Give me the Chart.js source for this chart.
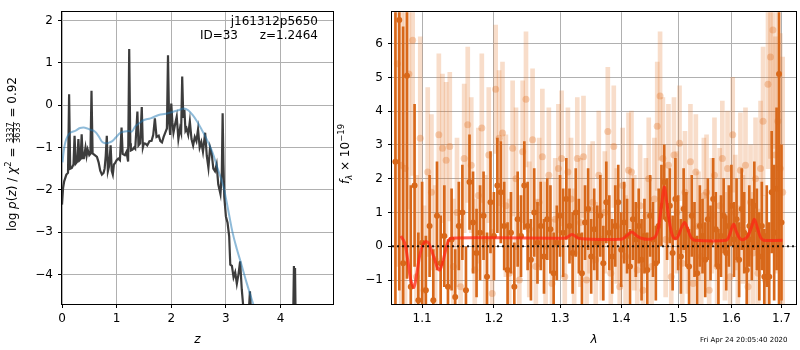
<!DOCTYPE html>
<html>
<head>
<meta charset="utf-8">
<script src="https://cdn.jsdelivr.net/npm/chart.js@4.4.0/dist/chart.umd.min.js"></script>
<style>
html, body { margin: 0; padding: 0; background: #fff; width: 800px; height: 350px; overflow: hidden; }
canvas { position: absolute; top: 0; }
#pz { left: 0; }
#spec { left: 336px; }
</style>
</head>
<body>
<canvas id="pz" width="338" height="350" style="width:338px;height:350px"></canvas>
<canvas id="spec" width="464" height="350" style="width:464px;height:350px"></canvas>
<script>
// p(z) panel
const zTicks = [0, 1, 2, 3, 4];
const logpTicks = [-4, -3, -2, -1, 0, 1, 2];

const zBlack = [
  0.00, 0.02, 0.04, 0.08, 0.11, 0.13, 0.15, 0.18, 0.21, 0.23,
  0.25, 0.28, 0.30, 0.32, 0.34, 0.36, 0.38, 0.40, 0.43, 0.45,
  0.47, 0.50, 0.52, 0.54, 0.56, 0.60, 0.64, 0.67, 0.70, 0.73,
  0.76, 0.78, 0.80, 0.82, 0.84, 0.86, 0.89, 0.91, 0.93, 0.95,
  0.97, 1.00, 1.03, 1.06, 1.09, 1.11, 1.15, 1.18, 1.21, 1.23,
  1.25, 1.26, 1.29, 1.32, 1.34, 1.36, 1.38, 1.40, 1.43, 1.46,
  1.48, 1.50, 1.53, 1.56, 1.60, 1.64, 1.67, 1.70, 1.73, 1.77,
  1.80, 1.83, 1.86, 1.89, 1.92, 1.94, 1.96, 1.98, 2.00, 2.02,
  2.04, 2.07, 2.10, 2.13, 2.16, 2.18, 2.20, 2.22, 2.24, 2.26,
  2.28, 2.31, 2.34, 2.37, 2.40, 2.43, 2.46, 2.49, 2.52, 2.55,
  2.58, 2.62, 2.65, 2.68, 2.71, 2.74, 2.77, 2.80, 2.83, 2.86,
  2.90, 2.925, 2.94, 2.955, 2.97, 3.00, 3.03, 3.06, 3.08, 3.11,
  3.14, 3.17, 3.20, 3.23, 3.26, 3.29, 3.32, 3.35, 3.39, 3.42,
  3.44, 3.46, 3.50, 4.22, 4.245, 4.255, 4.265, 4.285, 4.96
];
const logpBlack = [
  -2.35, -1.95, -1.80, -1.64, -1.60, 0.26, -1.50, -1.48, -1.40, -0.72,
  -1.38, -1.33, -0.80, -1.30, -1.27, -0.69, -1.25, -1.25, -1.00, -1.20,
  -1.05, -1.18, -1.15, 0.34, -1.14, -1.18, -1.22, -1.35, -1.55, -1.64,
  -1.60, -1.50, -1.20, -0.72, -1.56, -1.45, -0.95, -1.55, -1.64, -1.40,
  -1.37, -1.30, -1.26, -1.30, -0.53, -1.15, -1.18, -1.10, -1.33, 1.33,
  -0.90, -1.07, -1.05, -1.00, -1.03, -0.60, -0.15, -0.95, -0.90, -0.04,
  -1.00, -0.90, -0.91, -0.95, -0.85, -0.84, -0.70, -0.31, -0.75, -0.72,
  -0.85, -0.88, -0.75, -0.65, -0.55, 1.18, -0.40, -0.70, 0.04, -0.40,
  -0.65, -0.45, -0.27, -0.80, -0.55, -0.65, 0.68, -0.30, -0.11, -0.60,
  -0.55, -0.70, -0.38, -0.80, -0.95, -0.75, -0.85, -0.57, -1.00, -0.87,
  -1.10, -0.65, -1.20, -1.48, -1.00, -1.15, -1.50, -1.56, -1.40, -1.87,
  -2.10, -1.60, -0.19, -1.40, -2.17, -2.63, -2.78, -3.10, -3.77, -3.80,
  -4.07, -3.95, -4.22, -4.00, -3.69, -4.35, -4.80, -5.40, -5.20, -4.85,
  -4.40, -4.90, -6.00, -6.00, -3.80, -5.50, -3.85, -6.00, -6.00
];

const zBlue = [
  0.01, 0.03, 0.06, 0.10, 0.15, 0.25, 0.33, 0.42, 0.52, 0.60,
  0.67, 0.73, 0.79, 0.85, 0.92, 0.98, 1.07, 1.15, 1.22, 1.28,
  1.34, 1.42, 1.50, 1.62, 1.77, 1.90, 2.02, 2.13, 2.23, 2.31,
  2.39, 2.47, 2.54, 2.60, 2.66, 2.75, 2.85, 2.95, 3.00, 3.06,
  3.12, 3.20, 3.28, 3.38, 3.50, 3.60
];
const logpBlue = [
  -1.35, -1.10, -0.88, -0.74, -0.65, -0.60, -0.54, -0.53, -0.58, -0.62,
  -0.73, -0.86, -0.90, -0.89, -0.85, -0.77, -0.65, -0.62, -0.61, -0.62,
  -0.50, -0.42, -0.35, -0.31, -0.23, -0.20, -0.16, -0.12, -0.08, -0.12,
  -0.23, -0.38, -0.54, -0.68, -0.84, -1.10, -1.50, -1.90, -2.20, -2.60,
  -3.00, -3.40, -3.75, -4.20, -4.70, -5.10
];

// spectrum panel
const lamTicks = [1.1, 1.2, 1.3, 1.4, 1.5, 1.6, 1.7];
const fluxTicks = [-1, 0, 1, 2, 3, 4, 5, 6];
const lamRange = [1.0606, 1.7302];

const darkLam = [
  1.065, 1.070, 1.075, 1.080, 1.085, 1.090, 1.095, 1.100, 1.105, 1.110,
  1.115, 1.120, 1.125, 1.130, 1.135, 1.140, 1.145, 1.150, 1.155, 1.160,
  1.165, 1.170, 1.175, 1.180, 1.185, 1.190, 1.195, 1.200, 1.205, 1.210,
  1.215, 1.220, 1.225, 1.230, 1.235, 1.240, 1.245, 1.250, 1.255, 1.260,
  1.265, 1.270, 1.275, 1.280, 1.285, 1.290, 1.295, 1.300, 1.305, 1.310,
  1.315, 1.320, 1.325, 1.330, 1.335, 1.340, 1.345, 1.350, 1.355, 1.360,
  1.365, 1.370, 1.375, 1.380, 1.385, 1.390, 1.395, 1.400, 1.405, 1.410,
  1.415, 1.420, 1.425, 1.430, 1.435, 1.440, 1.445, 1.450, 1.455, 1.460,
  1.465, 1.470, 1.475, 1.480, 1.485, 1.490, 1.495, 1.500, 1.505, 1.510,
  1.515, 1.520, 1.525, 1.530, 1.535, 1.540, 1.545, 1.550, 1.555, 1.560,
  1.565, 1.570, 1.575, 1.580, 1.585, 1.590, 1.595, 1.600, 1.605, 1.610,
  1.615, 1.620, 1.625, 1.630, 1.635, 1.640, 1.645, 1.650, 1.655, 1.660,
  1.665, 1.670, 1.675, 1.680, 1.685, 1.690, 1.695, 1.700
];
const darkFlux = [
  2.5, 6.7, -0.5, 5.05, -1.2, 1.8, -1.6, 0.1, -1.3, 0.6,
  -1.6, 0.9, -0.5, 0.3, -1.2, 0.2, -1.5, 0.6, 1.0, -1.3,
  1.9, 0.7, -0.2, 0.4, 0.9, -0.9, 1.3, 0.3, 1.8, 1.6,
  0.6, -0.7, 0.4, -1.2, 0.8, 0.3, 1.8, 0.6, -0.4, 1.0,
  0.1, 0.6, -0.3, 0.8, 0.5, -0.8, 0.1, 0.9, 0.4, 1.4,
  0.6, -0.2, 1.0, 0.3, -0.8, 0.7, 1.1, -0.3, 0.5, 0.1,
  0.9, -0.5, 1.3, 0.4, -0.3, 0.6, 1.3, -0.1, 0.7, 0.3,
  -0.6, 0.8, 0.2, 0.6, -0.4, 0.3, -0.7, 0.9, 0.2, -0.5,
  0.6, 1.2, 1.9, 0.8, 1.2, -0.2, 1.4, 0.4, -0.3, 1.1,
  0.5, -0.6, 0.9, 0.2, -0.8, 0.6, 0.3, -0.4, 0.8, 0.1,
  1.4, 0.5, -0.6, 0.3, 0.9, -0.2, 0.6, 1.2, 0.2, 0.8,
  -0.4, 1.1, 0.4, -0.7, 0.6, 0.2, 1.2, 0.5, -0.3, 0.6,
  -0.9, 0.3, -0.9, 1.6, 0.4, 1.7, 5.1, 0.7
];
const darkErr = [
  9, 8, 7, 6, 3.0, 2.4, 2.0, 1.8, 1.6, 1.5,
  1.5, 1.6, 1.4, 1.5, 1.4, 1.5, 1.4, 1.3, 1.4, 1.3,
  1.4, 1.5, 1.3, 1.4, 1.3, 1.3, 1.5, 1.3, 1.4, 1.5,
  1.3, 1.4, 1.2, 1.3, 1.4, 1.2, 1.3, 1.3, 1.2, 1.3,
  1.2, 1.3, 1.1, 1.2, 1.3, 1.2, 1.1, 1.2, 1.3, 1.2,
  1.1, 1.2, 1.3, 1.1, 1.2, 1.1, 1.2, 1.1, 1.2, 1.1,
  1.2, 1.1, 1.2, 1.1, 1.1, 1.2, 1.1, 1.1, 1.2, 1.1,
  1.1, 1.2, 1.1, 1.1, 1.2, 1.1, 1.1, 1.2, 1.1, 1.1,
  1.1, 1.2, 1.1, 1.2, 1.1, 1.1, 1.2, 1.1, 1.1, 1.2,
  1.1, 1.1, 1.2, 1.1, 1.1, 1.2, 1.1, 1.1, 1.2, 1.1,
  1.2, 1.1, 1.1, 1.2, 1.1, 1.1, 1.2, 1.2, 1.1, 1.2,
  1.1, 1.2, 1.2, 1.1, 1.2, 1.2, 1.3, 1.2, 1.3, 1.3,
  1.4, 1.5, 1.6, 1.8, 2.0, 2.4, 9.0, 2.3
];

const lightLam = [
  1.0675, 1.0725, 1.0775, 1.0825, 1.0875, 1.0925, 1.0975, 1.1025, 1.1075, 1.1125,
  1.1175, 1.1225, 1.1275, 1.1325, 1.1375, 1.1425, 1.1475, 1.1525, 1.1575, 1.1625,
  1.1675, 1.1725, 1.1775, 1.1825, 1.1875, 1.1925, 1.1975, 1.2025, 1.2075, 1.2125,
  1.2175, 1.2225, 1.2275, 1.2325, 1.2375, 1.2425, 1.2475, 1.2525, 1.2575, 1.2625,
  1.2675, 1.2725, 1.2775, 1.2825, 1.2875, 1.2925, 1.2975, 1.3025, 1.3075, 1.3125,
  1.3175, 1.3225, 1.3275, 1.3325, 1.3375, 1.3425, 1.3475, 1.3525, 1.3575, 1.3625,
  1.3675, 1.3725, 1.3775, 1.3825, 1.3875, 1.3925, 1.3975, 1.4025, 1.4075, 1.4125,
  1.4175, 1.4225, 1.4275, 1.4325, 1.4375, 1.4425, 1.4475, 1.4525, 1.4575, 1.4625,
  1.4675, 1.4725, 1.4775, 1.4825, 1.4875, 1.4925, 1.4975, 1.5025, 1.5075, 1.5125,
  1.5175, 1.5225, 1.5275, 1.5325, 1.5375, 1.5425, 1.5475, 1.5525, 1.5575, 1.5625,
  1.5675, 1.5725, 1.5775, 1.5825, 1.5875, 1.5925, 1.5975, 1.6025, 1.6075, 1.6125,
  1.6175, 1.6225, 1.6275, 1.6325, 1.6375, 1.6425, 1.6475, 1.6525, 1.6575, 1.6625,
  1.6675, 1.6725, 1.6775, 1.6825, 1.6875, 1.6925, 1.6975, 1.7025
];
const lightFlux = [
  5.4, 2.4, 2.3, 5.1, 6.1, -0.9, 3.2, -1.3, 2.2, 1.6,
  -0.4, 3.3, 2.9, 2.55, 2.95, -0.6, 1.0, -1.2, 2.6, 3.6,
  2.4, -0.7, 1.5, 3.5, 0.2, 2.7, -1.4, 4.65, 3.2, 3.35,
  1.2, -0.8, 2.9, 2.0, -1.0, 2.8, 4.35, 0.5, 3.15, -0.6,
  1.3, 2.65, 0.0, 2.1, -1.1, 0.8, 2.3, 2.6, -0.9, 2.2,
  1.4, -0.2, 2.6, 0.7, 2.65, -1.0, 1.1, 1.3, -0.4, 2.1,
  0.2, 1.0, 3.4, -0.8, 2.95, 0.6, -1.2, 1.8, -0.3, 2.25,
  2.2, 0.4, -0.7, 1.2, -1.3, 0.9, 2.0, -0.6, 1.4, 3.55,
  4.45, 2.6, 0.2, 2.4, -0.9, 2.7, 1.0, 3.05, -0.5, 1.6,
  0.3, 2.5, -1.1, 2.2, 0.6, -0.3, 1.5, 1.6, -1.3, 0.9,
  2.1, -0.6, 1.2, 2.6, 0.0, 2.3, -0.9, 3.3, 1.0, -0.4,
  2.25, 0.5, 2.4, -1.2, 1.3, -0.2, 2.0, -0.8, 2.3, 3.7,
  -1.0, 4.8, 5.6, 6.4, 2.7, 3.7, 2.3, 1.6
];
const lightErr = [
  6, 6, 5, 4, 4, 3, 3, 2.5, 2.5, 2.3,
  2.2, 2.4, 2.2, 2.3, 2.2, 2.0, 2.2, 2.0, 2.2, 2.3,
  2.0, 2.1, 2.0, 2.2, 1.9, 2.0, 1.9, 1.9, 2.0, 2.1,
  2.1, 2.2, 2.0, 2.1, 2.0, 2.1, 2.0, 2.0, 2.1, 2.0,
  1.9, 2.0, 1.9, 2.0, 1.9, 1.8, 1.9, 2.0, 1.9, 1.9,
  1.8, 1.9, 1.8, 1.9, 1.8, 1.8, 1.9, 1.8, 1.7, 1.9,
  1.8, 1.8, 1.9, 1.8, 1.8, 1.7, 1.8, 1.7, 1.8, 1.7,
  1.8, 1.7, 1.7, 1.8, 1.7, 1.7, 1.8, 1.7, 1.8, 1.9,
  1.9, 1.8, 1.7, 1.8, 1.7, 1.7, 1.8, 1.7, 1.7, 1.8,
  1.7, 1.7, 1.7, 1.7, 1.6, 1.7, 1.7, 1.7, 1.6, 1.7,
  1.7, 1.6, 1.7, 1.7, 1.6, 1.7, 1.6, 1.7, 1.7, 1.6,
  1.7, 1.6, 1.7, 1.7, 1.7, 1.8, 1.8, 1.9, 2.0, 2.2,
  2.5, 2.5, 3, 3.5, 3.5, 4, 4, 4
];

const modelLam = [
  1.072, 1.077, 1.081, 1.085, 1.089, 1.093, 1.097, 1.101, 1.105, 1.109,
  1.113, 1.117, 1.121, 1.124, 1.128, 1.132, 1.136, 1.140, 1.200, 1.300,
  1.310, 1.319, 1.328, 1.336, 1.400, 1.410, 1.418, 1.426, 1.436, 1.450,
  1.459, 1.465, 1.470, 1.475, 1.479, 1.484, 1.489, 1.494, 1.500, 1.506,
  1.512, 1.518, 1.524, 1.531, 1.590, 1.596, 1.604, 1.610, 1.617, 1.624,
  1.632, 1.639, 1.645, 1.651, 1.657, 1.663, 1.702
];
const modelFlux = [
  0.30, 0.10, -0.40, -1.00, -1.22, -0.80, -0.25, 0.05, 0.14, 0.08,
  -0.15, -0.40, -0.65, -0.70, -0.45, -0.10, 0.18, 0.24, 0.25, 0.24,
  0.25, 0.35, 0.25, 0.22, 0.21, 0.32, 0.42, 0.32, 0.23, 0.21,
  0.28, 0.60, 1.20, 1.75, 1.35, 0.75, 0.35, 0.22, 0.30, 0.55,
  0.70, 0.48, 0.25, 0.18, 0.18, 0.32, 0.65, 0.42, 0.22, 0.20,
  0.30, 0.55, 0.80, 0.55, 0.28, 0.18, 0.18
];

const FONT = '"DejaVu Sans", sans-serif';
const DARK = 'rgb(216,104,26)';
const LIGHT = 'rgba(226,120,45,0.25)';
const LIGHT_DOT = 'rgba(226,120,45,0.35)';

const pairs = (xs, ys) => xs.map((x, i) => ({ x: x, y: ys[i] }));
const errBars = (xs, ys, es) => xs.map((x, i) => ({ x: x, y: [ys[i] - es[i], ys[i] + es[i]] }));
const minus = v => (v < 0 ? '\u2212' : '') + Math.abs(v);

function axis(ticks, extra, fmt, pad) {
  return Object.assign({
    afterBuildTicks: s => { s.ticks = ticks.map(v => ({ value: v })); },
    offset: false,
    grid: { color: '#b0b0b0', lineWidth: 1, tickColor: '#000', tickLength: 4, offset: false },
    border: { display: false },
    ticks: { color: '#000', font: { family: FONT, size: 12 }, padding: pad, maxRotation: 0, autoSkip: false, callback: fmt }
  }, extra);
}

const frame = {
  id: 'frame',
  afterDraw(c) {
    const a = c.chartArea, ctx = c.ctx;
    ctx.save();
    ctx.strokeStyle = '#000';
    ctx.lineWidth = 1;
    ctx.strokeRect(Math.round(a.left) - 0.5, Math.round(a.top) - 0.5,
      Math.round(a.right - a.left) + 1, Math.round(a.bottom - a.top) + 1);
    ctx.restore();
  }
};

// rotated label made of pieces (italic, sub/superscript, fraction)
function richLabel(ctx, parts, bx, cy) {
  ctx.save();
  ctx.translate(bx, cy);
  ctx.rotate(-Math.PI / 2);
  ctx.fillStyle = '#000';
  ctx.textBaseline = 'alphabetic';
  ctx.textAlign = 'left';
  const setFont = p => { ctx.font = (p.it ? 'italic ' : '') + (p.size || 12) + 'px ' + FONT; };
  let total = 0;
  parts.forEach(p => {
    setFont(p);
    p.w = p.frac
      ? Math.max(ctx.measureText(p.frac[0]).width, ctx.measureText(p.frac[1]).width) + 2
      : ctx.measureText(p.t).width;
    total += p.w;
  });
  let x = -total / 2;
  parts.forEach(p => {
    setFont(p);
    if (p.frac) {
      const wn = ctx.measureText(p.frac[0]).width, wd = ctx.measureText(p.frac[1]).width;
      ctx.fillText(p.frac[0], x + (p.w - wn) / 2, -3);
      ctx.fillText(p.frac[1], x + (p.w - wd) / 2, 4.8);
      ctx.fillRect(x + 0.5, -2.3, p.w - 1, 0.8);
    } else {
      ctx.fillText(p.t, x, p.dy || 0);
    }
    x += p.w;
  });
  ctx.restore();
}

const pzText = {
  id: 'pzText',
  afterDraw(c) {
    const ctx = c.ctx;
    richLabel(ctx, [
      { t: 'log ' }, { t: 'p', it: true }, { t: '(' }, { t: 'z', it: true }, { t: ') / ' },
      { t: '\u03c7', it: true }, { t: '2', size: 8.5, dy: -5 }, { t: ' = ' },
      { frac: ['3337', '3633'], size: 8 }, { t: ' = 0.92' }
    ], 15.5, 154);
    ctx.save();
    ctx.fillStyle = '#000';
    ctx.font = '12px ' + FONT;
    ctx.textAlign = 'right';
    ctx.textBaseline = 'alphabetic';
    ctx.fillText('j161312p5650', 318, 24.5);
    ctx.fillText('z=1.2464', 318, 39);
    ctx.fillText('ID=33', 238, 39);
    ctx.restore();
  }
};

const specText = {
  id: 'specText',
  afterDraw(c) {
    const ctx = c.ctx;
    richLabel(ctx, [
      { t: 'f', it: true }, { t: '\u03bb', it: true, size: 8.5, dy: 3 }, { t: ' \u00d7 10' },
      { t: '\u221219', size: 8.5, dy: -5 }
    ], 12.5, 154);
    ctx.save();
    ctx.fillStyle = '#000';
    ctx.font = '7px ' + FONT;
    ctx.textAlign = 'left';
    ctx.textBaseline = 'alphabetic';
    ctx.fillText('Fri Apr 24 20:05:40 2020', 364, 342);
    ctx.restore();
  }
};

new Chart(document.getElementById('pz'), {
  type: 'line',
  data: {
    datasets: [
      { data: pairs(zBlue, logpBlue), borderColor: 'rgba(31,119,180,0.5)', borderWidth: 2,
        pointRadius: 0, tension: 0.4, order: 0, clip: 0 },
      { data: pairs(zBlack, logpBlack), borderColor: '#3c3c3c', borderWidth: 2.2,
        pointRadius: 0, tension: 0, order: 1, clip: 0 }
    ]
  },
  options: {
    responsive: false, animation: false, events: [],
    layout: { padding: { top: 2, right: 5, left: 0, bottom: 0 } },
    plugins: { legend: { display: false }, tooltip: { enabled: false } },
    scales: {
      x: axis(zTicks, {
        type: 'linear', min: 0, max: 4.96,
        afterFit: s => { s.height = 46; },
        title: { display: true, text: 'z', color: '#000', font: { family: FONT, size: 12, style: 'italic' }, padding: { top: 0, bottom: 3 } }
      }, v => v, 4),
      y: axis(logpTicks, {
        type: 'linear', min: -4.7, max: 2.2,
        afterFit: s => { s.width = 62; }
      }, minus, 5)
    }
  },
  plugins: [frame, pzText]
});

new Chart(document.getElementById('spec'), {
  type: 'bar',
  data: {
    datasets: [
      { type: 'line', data: pairs(lamRange, [0, 0]), borderColor: 'rgba(0,0,0,0.85)', borderWidth: 2,
        borderDash: [2, 3], pointRadius: 0, order: 0, clip: 0 },
      { type: 'line', data: pairs(modelLam, modelFlux), borderColor: 'rgba(255,35,20,0.72)', borderWidth: 3,
        pointRadius: 0, tension: 0.35, order: 1, clip: 0 },
      { type: 'line', data: pairs(darkLam, darkFlux), showLine: false, pointRadius: 3,
        pointBackgroundColor: DARK, pointBorderWidth: 0, order: 2, clip: 0 },
      { type: 'bar', data: errBars(darkLam, darkFlux, darkErr), backgroundColor: DARK, borderWidth: 0,
        barThickness: 2, grouped: false, order: 3, clip: 0 },
      { type: 'line', data: pairs(lightLam, lightFlux), showLine: false, pointRadius: 3.5,
        pointBackgroundColor: LIGHT_DOT, pointBorderWidth: 0, order: 4, clip: 0 },
      { type: 'bar', data: errBars(lightLam, lightFlux, lightErr), backgroundColor: LIGHT, borderWidth: 0,
        barThickness: 4, grouped: false, order: 5, clip: 0 }
    ]
  },
  options: {
    responsive: false, animation: false, events: [],
    layout: { padding: { top: 2, right: 1, left: 0, bottom: 0 } },
    plugins: { legend: { display: false }, tooltip: { enabled: false } },
    scales: {
      x: axis(lamTicks, {
        type: 'logarithmic', min: lamRange[0], max: lamRange[1],
        afterFit: s => { s.height = 46; },
        title: { display: true, text: '\u03bb', color: '#000', font: { family: FONT, size: 12, style: 'italic' }, padding: { top: 0, bottom: 3 } }
      }, v => Number(v).toFixed(1), 4),
      y: axis(fluxTicks, {
        type: 'linear', min: -1.71, max: 6.93,
        afterFit: s => { s.width = 56; }
      }, minus, 5)
    }
  },
  plugins: [frame, specText]
});
</script>
</body>
</html>
